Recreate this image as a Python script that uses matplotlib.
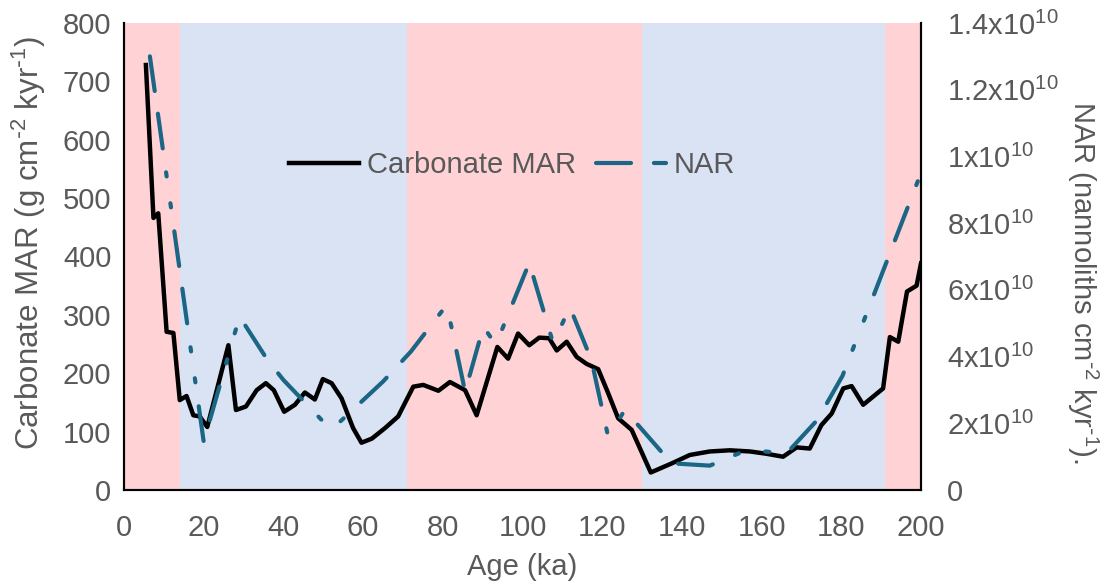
import matplotlib
matplotlib.use("Agg")
import matplotlib.pyplot as plt

plt.rcParams['font.family'] = ['Liberation Sans', 'DejaVu Sans']
plt.rcParams['mathtext.default'] = 'regular'

# carbonate mass accumulation rate (g cm-2 kyr-1)
mar_age = [5.5, 7.4, 8.6, 10.7, 12.4, 14.0, 15.7, 17.4, 19.0, 20.9, 26.2, 28.1,
           30.6, 33.3, 35.6, 37.6, 40.2, 42.9, 45.4, 47.9, 49.9, 52.1, 54.6,
           56.7, 57.5, 59.6, 62.2, 65.5, 68.8, 72.6, 75.1, 78.9, 81.8, 85.6,
           88.5, 93.7, 96.4, 98.9, 101.7, 104.2, 106.7, 108.6, 111.1, 113.6,
           116.1, 119.0, 121.5, 124.0, 127.4, 132.2, 137.6, 142.0, 147.0,
           152.0, 157.1, 161.3, 165.4, 168.8, 172.1, 175.0, 177.6, 180.5,
           182.6, 185.5, 190.5, 192.2, 194.3, 196.5, 198.9, 200.0]
mar = [728, 466, 474, 271, 269, 154, 161, 128, 126, 108, 248, 137,
       143, 171, 183, 171, 134, 146, 167, 155, 190, 183, 157,
       120, 106, 81, 88, 106, 126, 177, 180, 170, 185, 171,
       128, 245, 225, 268, 248, 261, 260, 239, 254, 228,
       216, 207, 166, 123, 103, 30, 46, 60, 66,
       68, 66, 62, 57, 73, 71, 111, 131, 174,
       178, 146, 174, 262, 254, 340, 350, 388]

# nannolith accumulation rate (x1e9 nannoliths cm-2 kyr-1)
nar_age = [6.5, 20.0, 29.0, 36.0, 40.0, 52.0, 65.0, 72.0, 81.0, 85.6, 90.2,
           93.3, 101.7, 107.7, 111.9, 117.3, 121.5, 125.7, 137.4, 147.0,
           156.3, 166.3, 174.0, 180.3, 200.0]
nar = [13.0, 1.45, 5.2, 3.9, 3.3, 1.8, 3.25, 4.15, 5.55, 2.95, 4.9,
       4.35, 6.81, 4.4, 5.48, 3.9, 1.6, 2.4, 0.8, 0.73,
       1.2, 1.1, 2.1, 3.42, 9.5]

# glacial / interglacial stage boundaries (ka)
stage_edges = [0, 14, 71, 130, 191, 200]
stage_colors = ['#FFD3D5', '#DAE3F3', '#FFD3D5', '#DAE3F3', '#FFD3D5']

nar_ticks = [0, 2, 4, 6, 8, 10, 12, 14]
nar_labels = ['0', '2x10$^{10}$', '4x10$^{10}$', '6x10$^{10}$', '8x10$^{10}$',
              '1x10$^{10}$', '1.2x10$^{10}$', '1.4x10$^{10}$']

grey = '#595959'
fs = 21

fig = plt.figure(figsize=(11.04, 5.85), dpi=100)
ax = fig.add_axes([0.1123, 0.1624, 0.7219, 0.7983])
ax2 = ax.twinx()

for i in range(len(stage_colors)):
    ax.axvspan(stage_edges[i], stage_edges[i + 1], color=stage_colors[i],
               lw=0, zorder=0)

l1, = ax.plot(mar_age, mar, color='black', lw=3.2, solid_joinstyle='round',
              label='Carbonate MAR', zorder=3)
l2, = ax2.plot(nar_age, nar, color='#1B6585', lw=3.0,
               dash_capstyle='round', solid_joinstyle='round', label='NAR')
l2.set_dashes([8.4, 5.5, 8.4, 5.8, 1.0, 6.5, 1.0, 5.8])

ax.set_xlim(0, 200)
ax.set_ylim(0, 800)
ax2.set_ylim(0, 14)
ax.set_xticks(range(0, 201, 20))
ax.set_yticks(range(0, 801, 100))
ax2.set_yticks(nar_ticks)
ax2.set_yticklabels(nar_labels)

for a in (ax, ax2):
    a.tick_params(length=0, labelsize=fs, labelcolor=grey)
    for s in a.spines.values():
        s.set_linewidth(1.5)
        s.set_color('black')
    a.spines['top'].set_visible(False)
ax.tick_params(axis='x', pad=17)
ax.tick_params(axis='y', pad=9)
ax2.tick_params(axis='y', pad=19)

ax.set_xlabel('Age (ka)', fontsize=fs, color=grey, labelpad=8)
ax.set_ylabel(r'Carbonate MAR (g cm$^{\text{-}2}$ kyr$^{\text{-}1}$)',
              fontsize=22.5, color=grey)
ax.yaxis.set_label_coords(-0.095, 0.53)
ax2.set_ylabel(r'NAR (nannoliths cm$^{\text{-}2}$ kyr$^{\text{-}1}$).',
               fontsize=fs, color=grey, rotation=270, va='bottom')
ax2.yaxis.set_label_coords(1.181, 0.445)

ax2.legend(handles=[l1, l2], loc='center', bbox_to_anchor=(0.487, 0.696),
           ncol=2, frameon=False, fontsize=fs, labelcolor=grey,
           handlelength=2.4, handletextpad=0.25, columnspacing=0.7)

fig.savefig('out.png', dpi=100)
